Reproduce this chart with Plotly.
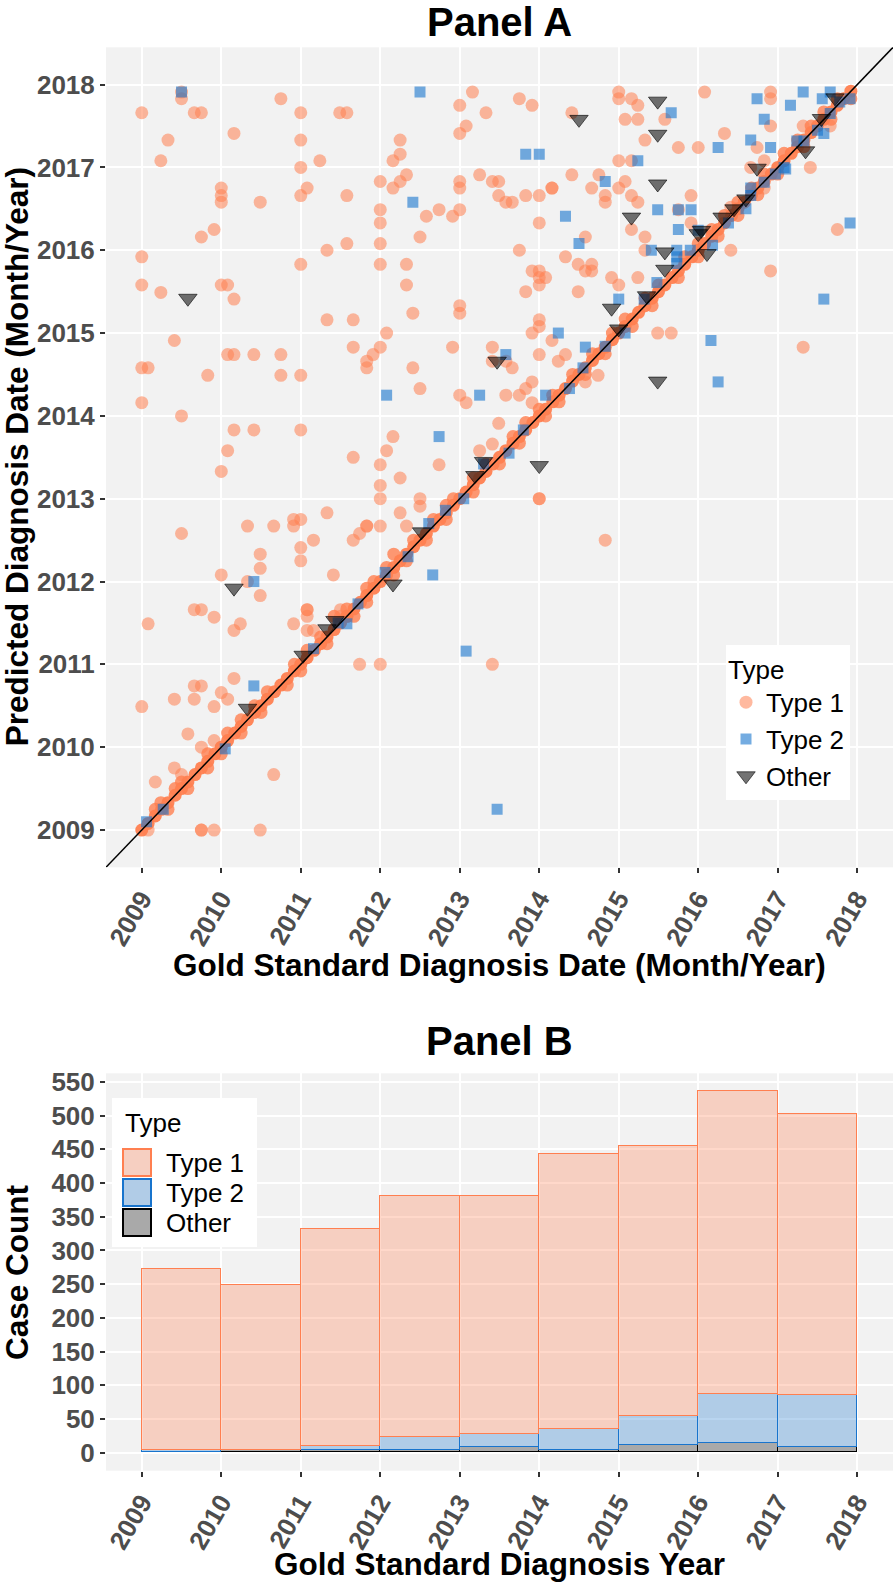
import plotly.graph_objects as go

# ---- Panel A data (decimal years) ----
# Type 1 cases that sit on the diagonal (predicted == gold standard month)
t1_diag = [
    2009.0, 2009.08, 2009.17, 2009.25, 2009.33, 2009.42, 2009.5, 2009.58, 2009.67, 2009.75, 2009.83, 2009.92,
    2010.0, 2010.08, 2010.17, 2010.25, 2010.33, 2010.42, 2010.5, 2010.58, 2010.67, 2010.75, 2010.83, 2010.92,
    2011.0, 2011.08, 2011.17, 2011.25, 2011.33, 2011.42, 2011.5, 2011.58, 2011.67, 2011.75, 2011.83, 2011.92,
    2012.0, 2012.08, 2012.17, 2012.25, 2012.33, 2012.42, 2012.5, 2012.58, 2012.67, 2012.75, 2012.83, 2012.92,
    2013.0, 2013.08, 2013.17, 2013.25, 2013.33, 2013.42, 2013.5, 2013.58, 2013.67, 2013.75, 2013.83, 2013.92,
    2014.0, 2014.08, 2014.17, 2014.25, 2014.33, 2014.42, 2014.5, 2014.58, 2014.67, 2014.75, 2014.83, 2014.92,
    2015.0, 2015.08, 2015.17, 2015.25, 2015.33, 2015.42, 2015.5, 2015.58, 2015.67, 2015.75, 2015.83, 2015.92,
    2016.0, 2016.08, 2016.17, 2016.25, 2016.33, 2016.42, 2016.5, 2016.58, 2016.67, 2016.75, 2016.83, 2016.92,
    2017.0, 2017.08, 2017.17, 2017.25, 2017.33, 2017.42, 2017.5, 2017.58, 2017.67, 2017.75, 2017.83, 2017.92,
]

# Type 1 cases one month off the diagonal
t1_near_x = [2009.17, 2009.5, 2010.25, 2010.58, 2011.25, 2011.42, 2011.92, 2012.17, 2012.42, 2012.92,
             2013.33, 2013.83, 2014.42, 2014.92, 2015.5, 2016.0, 2016.5, 2016.83, 2017.25, 2017.58,
             2009.33, 2010.0, 2010.83, 2011.67, 2012.58, 2013.5, 2014.25, 2015.17, 2015.75, 2016.25,
             2017.0, 2017.67, 2017.92, 2009.24,
             2009.42, 2009.83, 2010.08, 2010.42, 2010.92, 2011.08, 2011.58, 2011.83, 2012.08, 2012.67,
             2012.83, 2013.17, 2013.67, 2014.0, 2014.17, 2014.67, 2015.08, 2015.33, 2015.83, 2016.17,
             2016.33, 2016.67, 2017.08, 2017.42, 2017.75,
             2009.58, 2009.83, 2010.25, 2010.5, 2011.0, 2011.33, 2011.83, 2012.17, 2012.33, 2012.83,
             2013.17, 2013.75, 2014.08, 2014.58, 2014.83, 2015.42, 2016.0, 2016.5, 2016.75, 2017.33]
t1_near_y = [2009.25, 2009.58, 2010.33, 2010.67, 2011.33, 2011.58, 2012.0, 2012.33, 2012.5, 2013.0,
             2013.42, 2013.92, 2014.5, 2015.0, 2015.58, 2016.08, 2016.58, 2016.92, 2017.33, 2017.67,
             2009.25, 2009.92, 2010.75, 2011.58, 2012.5, 2013.42, 2014.17, 2015.08, 2015.67, 2016.17,
             2016.92, 2017.58, 2017.83, 2009.33,
             2009.5, 2009.92, 2010.17, 2010.5, 2011.0, 2011.17, 2011.67, 2011.92, 2012.17, 2012.75,
             2012.92, 2013.25, 2013.75, 2014.08, 2014.25, 2014.75, 2015.17, 2015.42, 2015.92, 2016.25,
             2016.42, 2016.75, 2017.17, 2017.5, 2017.83,
             2009.5, 2009.75, 2010.17, 2010.42, 2010.92, 2011.25, 2011.75, 2012.08, 2012.25, 2012.75,
             2013.08, 2013.67, 2014.0, 2014.5, 2014.75, 2015.33, 2015.92, 2016.42, 2016.67, 2017.25]

# Type 1 cases away from the diagonal
t1_x = [
    2009.50, 2009.50, 2009.00, 2009.66, 2009.75, 2010.75, 2011.00, 2011.49, 2011.58, 2013.16,
    2013.00, 2013.33, 2013.08, 2013.00, 2010.16, 2011.00, 2009.33, 2009.24, 2011.24, 2011.00,
    2012.25, 2012.25, 2012.16, 2012.33, 2012.25, 2012.16, 2012.00, 2013.00, 2013.00, 2013.25,
    2013.41, 2013.49, 2013.49, 2010.00, 2010.00, 2010.00, 2010.49, 2011.00, 2011.08, 2011.58,
    2012.00, 2012.00, 2012.58, 2012.74, 2012.91, 2013.00, 2012.50, 2009.75, 2009.91, 2009.00,
    2011.00, 2011.33, 2011.58, 2012.00, 2012.00, 2012.33, 2012.33, 2009.00, 2009.24, 2010.00,
    2010.08, 2010.16, 2013.00, 2013.00, 2012.41, 2011.33, 2011.66, 2012.08, 2009.41, 2011.66,
    2012.00, 2011.91, 2011.83, 2011.83, 2010.08, 2010.16, 2010.41, 2010.75, 2009.00, 2009.08,
    2009.83, 2010.75, 2011.00, 2012.41, 2012.50, 2013.00, 2013.08, 2012.91, 2013.41, 2013.41,
    2009.00, 2009.50, 2010.16, 2010.41, 2011.00, 2012.16, 2010.08, 2012.08, 2011.66, 2012.00,
    2013.25, 2013.41, 2013.49, 2013.75, 2013.91, 2014.41, 2015.00, 2015.00, 2015.16, 2015.24,
    2015.58, 2015.08, 2015.24, 2016.08, 2015.33, 2015.75, 2016.00, 2016.33, 2015.00, 2015.16,
    2013.58, 2013.66, 2013.83, 2014.00, 2014.16, 2014.16, 2014.41, 2014.75, 2014.66, 2015.00,
    2015.08, 2014.83, 2014.83, 2015.16, 2015.24, 2015.91, 2015.75, 2014.00, 2015.16, 2015.91,
    2014.58, 2015.33, 2013.75, 2014.33, 2015.33, 2014.49, 2014.58, 2014.66, 2014.66, 2013.91,
    2014.00, 2014.00, 2014.08, 2014.00, 2013.83, 2014.49, 2014.91, 2015.00, 2015.24, 2016.41,
    2016.91, 2017.75, 2014.00, 2014.00, 2013.91, 2014.16, 2013.58, 2013.66, 2014.00, 2014.24,
    2014.33, 2015.49, 2015.66, 2017.32, 2014.74, 2014.58, 2013.91, 2013.83, 2013.75, 2013.58,
    2013.91, 2016.91, 2016.91, 2016.91, 2017.32, 2017.66, 2016.74, 2017.41, 2016.66, 2016.83,
    2016.83, 2016.41, 2010.00, 2012.74, 2012.25, 2012.00, 2012.00, 2012.50, 2012.50, 2012.25,
    2012.33, 2012.00, 2011.83, 2011.83, 2011.74, 2011.66, 2011.33, 2010.91, 2011.00, 2010.91,
    2010.33, 2010.66, 2009.50, 2011.16, 2011.00, 2011.00, 2010.49, 2010.49, 2011.41, 2010.00,
    2010.33, 2010.49, 2009.66, 2009.75, 2009.91, 2009.08, 2010.16, 2010.24, 2010.91, 2011.08,
    2011.08, 2011.08, 2011.08, 2011.16, 2011.50, 2011.58, 2011.50, 2013.41, 2011.74, 2012.00,
    2010.16, 2009.66, 2009.75, 2009.41, 2009.66, 2010.00, 2010.08, 2009.91, 2009.00, 2009.58,
    2009.75, 2009.91, 2009.41, 2009.50, 2009.17, 2010.66, 2009.08, 2009.75, 2009.75, 2009.91,
    2010.49, 2014.00, 2014.00, 2014.83,
]
t1_y = [
    2017.91, 2017.83, 2017.66, 2017.66, 2017.66, 2017.83, 2017.66, 2017.66, 2017.66, 2017.91,
    2017.75, 2017.66, 2017.50, 2017.41, 2017.41, 2017.33, 2017.33, 2017.08, 2017.08, 2017.00,
    2017.33, 2017.16, 2017.08, 2016.91, 2016.83, 2016.75, 2016.83, 2016.83, 2016.75, 2016.91,
    2016.83, 2016.83, 2016.66, 2016.75, 2016.66, 2016.58, 2016.58, 2016.66, 2016.75, 2016.66,
    2016.49, 2016.33, 2016.41, 2016.49, 2016.41, 2016.49, 2016.16, 2016.16, 2016.25, 2015.92,
    2015.83, 2016.00, 2016.08, 2016.08, 2015.83, 2015.83, 2015.58, 2015.58, 2015.49, 2015.58,
    2015.58, 2015.41, 2015.33, 2015.24, 2015.24, 2015.16, 2015.16, 2015.00, 2014.91, 2014.83,
    2014.83, 2014.74, 2014.66, 2014.58, 2014.74, 2014.74, 2014.74, 2014.74, 2014.58, 2014.58,
    2014.49, 2014.49, 2014.49, 2014.58, 2014.33, 2014.25, 2014.16, 2014.83, 2014.83, 2014.66,
    2014.16, 2014.00, 2013.83, 2013.83, 2013.83, 2013.75, 2013.58, 2013.58, 2013.50, 2013.41,
    2013.58, 2013.66, 2013.91, 2017.83, 2017.75, 2017.66, 2017.91, 2017.83, 2017.83, 2017.75,
    2017.58, 2017.58, 2017.58, 2017.91, 2017.33, 2017.24, 2017.24, 2017.41, 2017.08, 2017.08,
    2016.58, 2016.58, 2016.66, 2016.66, 2016.75, 2016.75, 2016.91, 2016.91, 2016.75, 2016.75,
    2016.83, 2016.66, 2016.58, 2016.66, 2016.58, 2016.66, 2016.49, 2016.33, 2016.25, 2016.33,
    2016.16, 2016.16, 2016.00, 2015.92, 2016.00, 2015.83, 2015.75, 2015.83, 2015.75, 2015.75,
    2015.75, 2015.67, 2015.67, 2015.58, 2015.50, 2015.50, 2015.67, 2015.58, 2015.67, 2016.00,
    2015.75, 2016.25, 2015.16, 2015.08, 2015.00, 2014.91, 2014.66, 2014.58, 2014.74, 2014.66,
    2014.74, 2015.00, 2015.00, 2014.83, 2014.49, 2014.41, 2014.41, 2014.33, 2014.25, 2014.25,
    2014.16, 2017.91, 2017.83, 2017.50, 2017.50, 2017.50, 2017.24, 2017.00, 2017.00, 2017.08,
    2016.75, 2016.52, 2013.33, 2013.41, 2013.25, 2013.16, 2013.00, 2013.00, 2012.91, 2012.83,
    2012.67, 2012.67, 2012.67, 2012.67, 2012.58, 2012.50, 2012.83, 2012.75, 2012.75, 2012.67,
    2012.67, 2012.67, 2012.58, 2012.50, 2012.41, 2012.25, 2012.33, 2012.16, 2012.08, 2012.08,
    2012.00, 2011.83, 2011.66, 2011.66, 2011.57, 2011.49, 2011.41, 2011.49, 2011.49, 2011.66,
    2011.66, 2011.58, 2011.41, 2011.41, 2011.66, 2011.58, 2011.58, 2011.00, 2011.00, 2011.00,
    2010.83, 2010.74, 2010.74, 2010.58, 2010.58, 2010.66, 2010.58, 2010.49, 2010.49, 2010.16,
    2010.00, 2010.08, 2009.75, 2009.67, 2009.58, 2009.67, 2009.00, 2009.00, 2009.00, 2009.00,
    2009.00, 2013.00, 2013.00, 2012.50,
]

# Type 2 cases
t2_x = [
    2009.50, 2012.50, 2012.41, 2012.08, 2013.25, 2012.74, 2013.83, 2014.00, 2015.66, 2016.25,
    2015.24, 2014.83, 2015.49, 2015.91, 2015.75, 2014.33, 2015.75, 2014.50, 2015.41, 2017.91,
    2017.58, 2015.00, 2014.24, 2013.58, 2014.58, 2016.16, 2016.25, 2016.74, 2017.32, 2017.66,
    2017.56, 2017.16, 2016.83, 2017.58, 2016.66, 2016.91, 2017.08, 2016.66, 2016.66, 2010.41,
    2010.41, 2012.66, 2013.08, 2013.47, 2011.58,
    2009.06, 2009.27, 2010.05, 2011.16, 2011.47, 2011.72, 2012.06, 2012.35, 2012.61, 2012.82,
    2013.05, 2013.30, 2013.62, 2013.80, 2014.08, 2014.38, 2014.55, 2014.83, 2015.08, 2015.32,
    2015.48, 2015.73, 2015.73, 2015.73, 2015.90, 2016.18, 2016.00, 2016.38, 2016.60, 2016.83,
    2016.97, 2017.10, 2017.24, 2017.33, 2017.50, 2017.66, 2017.78, 2017.91,
]
t2_y = [
    2017.91, 2017.91, 2016.58, 2014.25, 2014.25, 2013.75, 2017.16, 2017.16, 2017.66, 2017.24,
    2017.08, 2016.83, 2016.49, 2016.49, 2016.49, 2016.41, 2016.25, 2016.08, 2016.00, 2016.33,
    2015.41, 2015.41, 2015.00, 2014.74, 2014.83, 2014.91, 2014.41, 2017.83, 2017.91, 2017.91,
    2017.83, 2017.75, 2017.58, 2017.41, 2017.33, 2017.24, 2017.00, 2016.75, 2016.66, 2012.00,
    2010.74, 2012.08, 2011.16, 2009.25, 2011.49,
    2009.10, 2009.25, 2009.98, 2011.19, 2011.50, 2011.73, 2012.11, 2012.30, 2012.70, 2012.86,
    2013.00, 2013.42, 2013.55, 2013.83, 2014.25, 2014.33, 2014.58, 2014.84, 2015.00, 2015.41,
    2015.61, 2016.00, 2015.92, 2015.84, 2016.00, 2016.06, 2016.24, 2016.33, 2016.50, 2016.82,
    2016.92, 2016.98, 2017.32, 2017.32, 2017.45, 2017.65, 2017.79, 2017.83,
]

# Other cases
oth_x = [
    2009.58, 2014.50, 2015.49, 2015.49, 2015.49, 2015.16, 2015.58, 2015.58, 2014.91, 2015.49,
    2013.47, 2014.00, 2010.16, 2012.16, 2010.33, 2016.74, 2016.04, 2016.11, 2016.45, 2017.35,
    2017.55, 2017.72, 2011.03, 2011.33, 2011.43, 2012.52, 2013.19, 2013.30, 2015.35, 2015.00,
    2016.00, 2016.30, 2016.60,
]
oth_y = [
    2015.42, 2017.58, 2017.80, 2017.40, 2016.80, 2016.40, 2015.98, 2015.77, 2015.30, 2014.42,
    2014.66, 2013.40, 2011.92, 2011.97, 2010.47, 2016.99, 2016.24, 2015.96, 2016.50, 2017.20,
    2017.59, 2017.84, 2011.11, 2011.43, 2011.53, 2012.60, 2013.28, 2013.45, 2015.45, 2015.05,
    2016.20, 2016.40, 2016.62,
]

year_ticks = [2009, 2010, 2011, 2012, 2013, 2014, 2015, 2016, 2017, 2018]
year_labels = ["2009", "2010", "2011", "2012", "2013", "2014", "2015", "2016", "2017", "2018"]

# ---- Panel B data: cases per gold standard year ----
bin_start = [2009, 2010, 2011, 2012, 2013, 2014, 2015, 2016, 2017]
n_type1 = [268, 244, 323, 357, 353, 409, 401, 449, 417]
n_type2 = [3, 1, 5, 20, 19, 30, 43, 73, 77]
n_other = [1, 3, 4, 3, 8, 4, 11, 14, 8]
count_ticks = [0, 50, 100, 150, 200, 250, 300, 350, 400, 450, 500, 550]
type_names = ["Type 1", "Type 2", "Other"]

# ---- styling ----
W, H = 893, 1582
FONT = "Liberation Sans"
CORAL = "#FF7F50"
BLUE = "#1874CD"
A_RANGE = [2008.55, 2018.45]
B_YRANGE = [-26.8, 562.8]


def py(px):
    return 1 - px / H


fig = go.Figure()

fig.add_trace(go.Scatter(x=t1_diag, y=t1_diag, mode="markers", showlegend=False, xaxis="x", yaxis="y",
                         marker=dict(symbol="circle", size=13, color="rgba(255,127,80,0.95)", line=dict(width=0))))
fig.add_trace(go.Scatter(x=t1_near_x, y=t1_near_y, mode="markers", showlegend=False, xaxis="x", yaxis="y",
                         marker=dict(symbol="circle", size=13, color="rgba(255,127,80,0.8)", line=dict(width=0))))
fig.add_trace(go.Scatter(x=t1_x, y=t1_y, mode="markers", name="Type 1",
                         xaxis="x", yaxis="y",
                         marker=dict(symbol="circle", size=13, color="rgba(255,127,80,0.55)", line=dict(width=0))))
fig.add_trace(go.Scatter(x=t2_x, y=t2_y, mode="markers", name="Type 2",
                         xaxis="x", yaxis="y",
                         marker=dict(symbol="square", size=11, color="rgba(24,116,205,0.6)", line=dict(width=0))))
fig.add_trace(go.Scatter(x=oth_x, y=oth_y, mode="markers", name="Other",
                         xaxis="x", yaxis="y",
                         marker=dict(symbol="triangle-down", size=16, color="rgba(0,0,0,0.55)",
                                     line=dict(width=1, color="rgba(0,0,0,0.6)"))))

# stacked histogram: first trace sits at the bottom (legend for panel B drawn by hand below)
bar_fill = {"Type 1": "rgba(255,127,80,0.3)", "Type 2": "rgba(24,116,205,0.3)", "Other": "rgba(0,0,0,0.3)"}
bar_line = {"Type 1": CORAL, "Type 2": BLUE, "Other": "black"}
for name, counts in [("Other", n_other), ("Type 2", n_type2), ("Type 1", n_type1)]:
    fig.add_trace(go.Bar(x=bin_start, y=counts, name=name, width=1, offset=0, showlegend=False,
                         xaxis="x2", yaxis="y2",
                         marker=dict(color=bar_fill[name], line=dict(color=bar_line[name], width=1.5))))

tickfont = dict(family=FONT, size=26, color="#4D4D4D", weight="bold")
common = dict(showgrid=True, gridcolor="white", gridwidth=1.6, zeroline=False, showline=False,
              automargin=False, ticks="outside", ticklen=5, tickwidth=1.5, tickcolor="#333333",
              tickfont=tickfont)

x_dom = [106 / W, 1.0]
a_ydom = [1 - 867.3 / H, 1 - 47.3 / H]
b_ydom = [1 - 1470.7 / H, 1 - 1073.3 / H]

title_font = dict(family=FONT, size=40, color="black", weight="bold")
axis_font = dict(family=FONT, size=31.5, color="black", weight="bold")
leg_font = dict(family=FONT, size=26, color="black")
xc = (x_dom[0] + x_dom[1]) / 2

annotations = [
    dict(text="Panel A", x=xc, y=py(22), font=title_font),
    dict(text="Gold Standard Diagnosis Date (Month/Year)", x=xc, y=py(965), font=axis_font),
    dict(text="Predicted Diagnosis Date (Month/Year)", x=17 / W, y=(a_ydom[0] + a_ydom[1]) / 2,
         textangle=-90, font=axis_font),
    dict(text="Panel B", x=xc, y=py(1041), font=title_font),
    dict(text="Gold Standard Diagnosis Year", x=xc, y=py(1564), font=axis_font),
    dict(text="Case Count", x=17 / W, y=(b_ydom[0] + b_ydom[1]) / 2, textangle=-90, font=axis_font),
]
for a in annotations:
    a.update(xanchor="center")

# panel B legend: white box, filled keys, labels
shapes = [dict(type="rect", x0=112 / W, x1=257 / W, y0=py(1247), y1=py(1098),
               fillcolor="white", line=dict(width=0), layer="above")]
key_fill = {"Type 1": "#F6CFC1", "Type 2": "#B1CCE7", "Other": "#A9A9A9"}
annotations.append(dict(text="Type", x=123 / W, y=py(1123), font=leg_font, xanchor="left"))
for i, name in enumerate(type_names):
    top = 1149 + i * 30
    shapes.append(dict(type="rect", x0=123 / W, x1=151 / W, y0=py(top + 27), y1=py(top),
                       fillcolor=key_fill[name], line=dict(color=bar_line[name], width=2), layer="above"))
    annotations.append(dict(text=name, x=164 / W, y=py(top + 14), font=leg_font, xanchor="left"))

for a in annotations:
    a.update(xref="paper", yref="paper", showarrow=False, yanchor="middle")

shapes.append(dict(type="line", xref="x", yref="y", x0=A_RANGE[0], y0=A_RANGE[0], x1=A_RANGE[1], y1=A_RANGE[1],
                   line=dict(color="black", width=1.5), layer="above"))
for s in shapes[:-1]:
    s.update(xref="paper", yref="paper")

fig.update_layout(
    width=W, height=H,
    margin=dict(l=0, r=0, t=0, b=0, autoexpand=False),
    paper_bgcolor="white", plot_bgcolor="#F2F2F2",
    barmode="stack", bargap=0,
    xaxis=dict(domain=x_dom, anchor="y", range=A_RANGE, tickvals=year_ticks, ticktext=year_labels,
               tickangle=-60, **common),
    yaxis=dict(domain=a_ydom, anchor="x", range=A_RANGE, tickvals=year_ticks, ticktext=year_labels,
               **common),
    xaxis2=dict(domain=x_dom, anchor="y2", range=A_RANGE, tickvals=year_ticks, ticktext=year_labels,
                tickangle=-60, **common),
    yaxis2=dict(domain=b_ydom, anchor="x2", range=B_YRANGE, tickvals=count_ticks, **common),
    legend=dict(x=726 / W, y=py(645), xanchor="left", yanchor="top", bgcolor="white", borderwidth=0,
                traceorder="normal", font=leg_font, title=dict(text="Type", font=leg_font),
                itemsizing="trace"),
    annotations=annotations,
    shapes=shapes,
)

# the page's default body margin would push the figure off the window
fig.write_html("out.html", config={"displayModeBar": False},
               post_script="document.body.style.margin='0';")
